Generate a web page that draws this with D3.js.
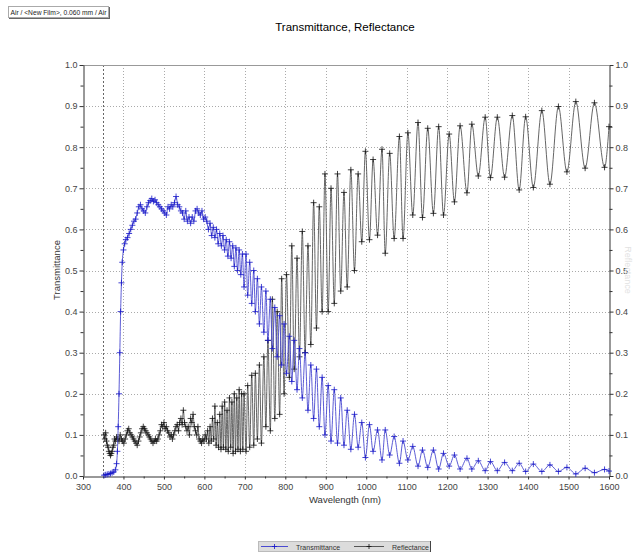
<!DOCTYPE html>
<html><head><meta charset="utf-8">
<script src="https://cdn.jsdelivr.net/npm/d3@7/dist/d3.min.js"></script>
<style>
html,body{margin:0;padding:0;background:#fff;}
svg{display:block;font-family:"Liberation Sans",Arial,sans-serif;}
</style></head><body>
<svg id="chart" width="633" height="553"></svg>
<script>
// ---- data ----
const titleText = "Transmittance, Reflectance";
const headerText = "Air / <New Film>, 0.060 mm / Air";
const xTicks = [300,400,500,600,700,800,900,1000,1100,1200,1300,1400,1500,1600];
const yTicks = [0,0.1,0.2,0.3,0.4,0.5,0.6,0.7,0.8,0.9,1.0];
const seriesNames = ["Transmittance","Reflectance"];

const tWl = [352,356,360,364,368,372,376,380,383,385,387,389,391,393,395,397,400,403,406,410,414,418,422,426,430,434,438,442,446,450,454,458,462,466,470,474,478,482,486,490,494,498,502,506,510,514,518,522,526,530,534,538,542,546,550,554,558,562,566,570,574,578,582,586,590,594,598,602,606,610,614,618,622,626,630,634,638,642,646,650,654,658,662,666,670,674,678,682,686,690,694,698,703,707,712,717,722,726,731,736,741,747,752,757,763,768,774,780,786,791,797,803,810,816,822,829,835,842,849,856,863,870,877,884,891,898,906,913,921,929,937,945,953,962,971,980,989,998,1008,1017,1028,1039,1047,1058,1069,1082,1091,1103,1115,1128,1139,1152,1166,1179,1191,1205,1218,1232,1249,1261,1277,1294,1307,1324,1342,1361,1378,1394,1413,1434,1454,1475,1496,1518,1541,1564,1589,1600];
const tVal = [.002,.003,.004,.005,.006,.008,.010,.015,.03,.06,.12,.2,.3,.4,.47,.52,.55,.565,.575,.58,.59,.6,.61,.62,.625,.64,.655,.66,.65,.645,.64,.655,.665,.67,.675,.668,.672,.665,.66,.655,.65,.645,.64,.635,.655,.65,.66,.655,.665,.68,.66,.655,.645,.64,.625,.645,.62,.63,.615,.63,.62,.645,.65,.64,.635,.645,.625,.63,.62,.6,.615,.585,.605,.58,.6,.565,.59,.56,.585,.55,.575,.535,.57,.53,.56,.51,.555,.5,.55,.49,.54,.46,.54,.44,.52,.42,.50,.40,.48,.37,.46,.35,.45,.33,.43,.31,.41,.29,.39,.27,.37,.25,.34,.23,.33,.21,.31,.19,.30,.16,.27,.14,.26,.12,.24,.10,.22,.085,.21,.08,.19,.075,.16,.065,.15,.07,.13,.045,.125,.06,.112,.039,.112,.051,.096,.031,.085,.039,.072,.024,.063,.021,.063,.017,.055,.024,.051,.017,.043,.017,.037,.013,.035,.013,.033,.013,.031,.011,.029,.011,.027,.011,.021,.005,.019,.008,.016,.012];

const rWl = [352,354,356,358,360,362,364,366,368,370,372,374,376,378,380,383,386,389,392,395,398,401,404,407,410,413,416,419,422,425,428,431,434,437,440,443,446,449,452,455,458,461,464,467,470,473,476,479,482,485,488,491,494,497,500,503,506,509,512,515,518,521,524,527,530,533,536,539,542,545,548,551,554,557,560,563,566,569,572,575,578,581,584,587,590,593,596,599,602,605,608,611,614,617,620,623,626,629,632,635,638,641,644,647,650,653,656,659,662,665,668,671,674,677,680,683,686,689,692,695,698,703,707,712,717,722,726,731,736,741,747,752,757,763,768,774,780,786,791,797,803,810,816,822,829,835,842,849,856,863,870,877,884,891,898,906,913,921,929,937,945,953,962,971,980,989,998,1008,1017,1028,1039,1047,1058,1069,1082,1091,1103,1115,1128,1139,1152,1166,1179,1191,1205,1218,1232,1249,1261,1277,1294,1307,1324,1342,1361,1378,1394,1413,1434,1454,1475,1496,1518,1541,1564,1589,1600];
const rVal = [.10,.09,.105,.085,.075,.07,.06,.055,.05,.055,.06,.07,.075,.09,.085,.095,.09,.085,.10,.09,.085,.08,.09,.10,.11,.115,.105,.10,.095,.09,.085,.08,.075,.085,.095,.105,.115,.12,.115,.11,.105,.10,.095,.09,.085,.08,.085,.09,.085,.09,.10,.11,.125,.12,.13,.115,.12,.11,.105,.095,.10,.09,.10,.11,.12,.125,.11,.13,.14,.125,.16,.13,.12,.11,.12,.10,.14,.13,.15,.12,.11,.10,.12,.09,.085,.08,.09,.085,.10,.09,.11,.08,.12,.085,.14,.09,.17,.075,.13,.07,.15,.065,.17,.07,.18,.065,.16,.06,.19,.07,.18,.055,.20,.06,.19,.065,.21,.06,.20,.065,.20,.06,.22,.07,.245,.075,.25,.09,.27,.08,.29,.12,.33,.11,.43,.14,.40,.15,.48,.20,.49,.24,.56,.26,.53,.29,.595,.30,.56,.32,.665,.36,.655,.40,.735,.40,.70,.42,.735,.45,.69,.46,.745,.50,.735,.57,.79,.575,.77,.586,.795,.542,.785,.578,.826,.578,.835,.635,.86,.629,.846,.639,.85,.635,.832,.667,.852,.689,.856,.73,.873,.726,.873,.727,.877,.696,.874,.702,.889,.71,.899,.74,.911,.749,.908,.751,.85];

// ---- drawing ----
const svg = d3.select("#chart");
const x = d3.scaleLinear().domain([300,1600]).range([83,609]);
const y = d3.scaleLinear().domain([0,1]).range([476,65]);
const colT = "#1515c8", colR = "#111";

// header box
const hb = svg.append("g");
hb.append("rect").attr("x",8.5).attr("y",6.5).attr("width",100).attr("height",11).attr("fill","#fff").attr("stroke","#aaa");
hb.append("line").attr("x1",9).attr("x2",109).attr("y1",18.5).attr("y2",18.5).attr("stroke","#666");
hb.append("line").attr("x1",109.5).attr("x2",109.5).attr("y1",7).attr("y2",19).attr("stroke","#666");
hb.append("text").attr("x",10.5).attr("y",14.8).attr("font-size",6.5).attr("fill","#222")
  .attr("textLength",96).attr("lengthAdjust","spacingAndGlyphs").text(headerText);

// title
svg.append("text").attr("x",345).attr("y",31).attr("text-anchor","middle").attr("font-size",11.5).attr("fill","#000").text(titleText);

// grid
const grid = svg.append("g").attr("stroke","#aaa").attr("stroke-width",1).attr("stroke-dasharray","1,2");
xTicks.filter(v=>v>300&&v<1600).forEach(v=>{
  grid.append("line").attr("x1",Math.round(x(v))+0.5).attr("x2",Math.round(x(v))+0.5).attr("y1",y(1)).attr("y2",y(0));
});
yTicks.filter(v=>v>0&&v<1).forEach(v=>{
  grid.append("line").attr("x1",x(300)).attr("x2",x(1600)).attr("y1",Math.round(y(v))+0.5).attr("y2",Math.round(y(v))+0.5);
});
// 350 nm marker line
svg.append("line").attr("x1",Math.round(x(350))+0.5).attr("x2",Math.round(x(350))+0.5).attr("y1",y(1)).attr("y2",y(0))
  .attr("stroke","#666").attr("stroke-dasharray","2,2");

// top border
svg.append("line").attr("x1",x(300)).attr("x2",x(1600)).attr("y1",y(1)+0.5).attr("y2",y(1)+0.5).attr("stroke","#999");

// axes
const fmt = d3.format(".1f");
const minorY = d3.range(0.05,1,0.1);
const minorX = d3.range(350,1600,100);
function styleAxis(g){
  g.selectAll("path").attr("stroke","#333");
  g.selectAll("line").attr("stroke","#333");
  g.selectAll("text").attr("fill","#444").attr("font-size",9).attr("font-family","Liberation Sans, Arial, sans-serif");
}
const gl = svg.append("g").attr("transform",`translate(${x(300)+0.5},0)`)
  .call(d3.axisLeft(y).tickValues(yTicks).tickFormat(fmt).tickSize(4).tickSizeOuter(0).tickPadding(2));
styleAxis(gl);
const glm = svg.append("g").attr("transform",`translate(${x(300)+0.5},0)`)
  .call(d3.axisLeft(y).tickValues(minorY).tickFormat("").tickSize(3).tickSizeOuter(0));
styleAxis(glm); glm.select("path").remove();
const gr = svg.append("g").attr("transform",`translate(${x(1600)+0.5},0)`)
  .call(d3.axisRight(y).tickValues(yTicks).tickFormat(fmt).tickSize(4).tickSizeOuter(0).tickPadding(2));
styleAxis(gr);
const grm = svg.append("g").attr("transform",`translate(${x(1600)+0.5},0)`)
  .call(d3.axisRight(y).tickValues(minorY).tickFormat("").tickSize(3).tickSizeOuter(0));
styleAxis(grm); grm.select("path").remove();
const gb = svg.append("g").attr("transform",`translate(0,${y(0)+0.5})`)
  .call(d3.axisBottom(x).tickValues(xTicks).tickFormat(d3.format("d")).tickSize(3).tickSizeOuter(0).tickPadding(4));
styleAxis(gb);
const gbm = svg.append("g").attr("transform",`translate(0,${y(0)+0.5})`)
  .call(d3.axisBottom(x).tickValues(minorX).tickFormat("").tickSize(2).tickSizeOuter(0));
styleAxis(gbm); gbm.select("path").remove();

// axis titles
svg.append("text").attr("x",345).attr("y",503).attr("text-anchor","middle").attr("font-size",9.5).attr("fill","#333").text("Wavelength (nm)");
svg.append("text").attr("transform","translate(60,270) rotate(-90)").attr("text-anchor","middle").attr("font-size",9.5).attr("fill","#333").text("Transmittance");
svg.append("text").attr("transform","translate(625,270) rotate(90)").attr("text-anchor","middle").attr("font-size",9).attr("fill","#e2e2e2").text("Reflectance");

// series
const tData = tWl.map((w,i)=>({w, v:tVal[i]}));
const rData = rWl.map((w,i)=>({w, v:rVal[i]}));
const line = d3.line().x(d=>x(d.w)).y(d=>y(d.v)).curve(d3.curveMonotoneX);
const plot = svg.append("g");
function drawSeries(data, lineCol, markCol){
  plot.append("path").datum(data).attr("d",line).attr("fill","none").attr("stroke",lineCol).attr("stroke-width",0.9);
  const s = 3;
  plot.append("path").attr("fill","none").attr("stroke",markCol).attr("stroke-width",0.8)
    .attr("d", data.map(d=>{const px=x(d.w), py=y(d.v);
      return `M${px-s},${py}H${px+s}M${px},${py-s}V${py+s}`;}).join(""));
}
drawSeries(rData, "#555", colR);
drawSeries(tData, "#4a4ad0", colT);

// legend
const lg = svg.append("g");
lg.append("rect").attr("x",258.5).attr("y",541.5).attr("width",172).attr("height",10).attr("fill","#dcdcdc").attr("stroke","#bbb");
lg.append("line").attr("x1",430.5).attr("x2",430.5).attr("y1",541).attr("y2",552).attr("stroke","#444");
const legendItems = [{name:seriesNames[0], col:colT, lc:"#4a4ad0", x0:261, x1:288, tx:296},
                     {name:seriesNames[1], col:colR, lc:"#555", x0:354, x1:384, tx:392}];
legendItems.forEach(it=>{
  lg.append("line").attr("x1",it.x0).attr("x2",it.x1).attr("y1",546.5).attr("y2",546.5).attr("stroke",it.lc).attr("stroke-width",1);
  const cx=(it.x0+it.x1)/2;
  lg.append("path").attr("d",`M${cx-2.5},546.5H${cx+2.5}M${cx},544V549`).attr("stroke",it.col).attr("stroke-width",0.8);
  lg.append("text").attr("x",it.tx).attr("y",549.5).attr("font-size",7).attr("fill","#333").text(it.name);
});
</script>
</body></html>
